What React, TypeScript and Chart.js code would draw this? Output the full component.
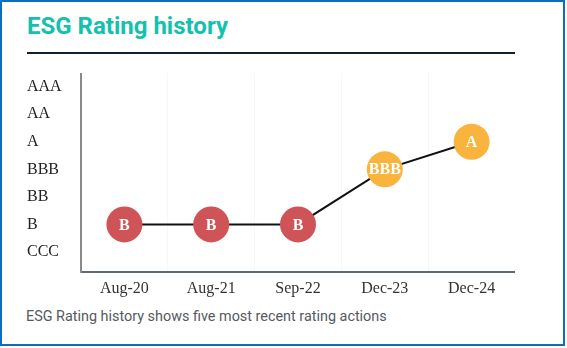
import React, { useEffect, useRef } from "react";
import { Chart, registerables } from "chart.js";

Chart.register(...registerables);

const categories = ["Aug-20", "Aug-21", "Sep-22", "Dec-23", "Dec-24"];
const ratingScale = ["CCC", "B", "BB", "BBB", "A", "AA", "AAA"];
const ratings = ["B", "B", "B", "BBB", "A"];
const ratingValues = [2, 2, 2, 4, 5];
const pointColors = ["#cf5457", "#cf5457", "#cf5457", "#f9b43e", "#f9b43e"];

const labelPlugin = {
  id: "pointLabels",
  afterDatasetsDraw(chart: any) {
    const ctx = chart.ctx;
    const meta = chart.getDatasetMeta(0);
    ctx.save();
    ctx.fillStyle = "#ffffff";
    ctx.font = "bold 16px 'Liberation Serif', serif";
    ctx.textAlign = "center";
    ctx.textBaseline = "middle";
    meta.data.forEach((el: any, i: number) => {
      ctx.fillText(ratings[i], el.x, el.y + 1);
    });
    ctx.restore();
  },
};

function RatingChart() {
  const ref = useRef<HTMLCanvasElement | null>(null);
  useEffect(() => {
    if (!ref.current) return;
    const chart = new Chart(ref.current, {
      type: "line",
      data: {
        labels: categories,
        datasets: [
          {
            data: ratingValues,
            borderColor: "#111111",
            borderWidth: 2,
            pointRadius: 18,
            pointHoverRadius: 18,
            pointBackgroundColor: pointColors,
            pointBorderColor: pointColors,
            pointBorderWidth: 0,
            tension: 0,
            clip: false,
          },
        ],
      },
      options: {
        animation: false,
        responsive: true,
        maintainAspectRatio: false,
        layout: { autoPadding: false, padding: { top: 0, right: 0, bottom: 0, left: 0 } },
        plugins: { legend: { display: false }, tooltip: { enabled: false } },
        scales: {
          x: {
            offset: true,
            grid: { display: true, color: "#f7f7f7", drawTicks: false, offset: true },
            border: { display: true, color: "#5f6b72", width: 2 },
            ticks: {
              color: "#333333",
              padding: 7,
              font: { family: "'Liberation Serif', serif", size: 16 },
            },
            afterFit: (s: any) => {
              s.height = 30;
              s.paddingLeft = 0;
              s.paddingRight = 0;
            },
          },
          y: {
            min: 0.27,
            max: 7.5,
            grid: { display: false, drawTicks: false },
            border: { display: true, color: "#8a8a8a", width: 2 },
            afterBuildTicks: (s: any) => {
              s.ticks = ratingScale.map((_, i) => ({ value: i + 1 }));
            },
            ticks: {
              crossAlign: "far",
              color: "#222222",
              font: { family: "'Liberation Serif', serif", size: 16 },
              callback: (v: any) => ratingScale[Math.round(v) - 1] ?? "",
            },
            afterFit: (s: any) => {
              s.width = 54;
              s.paddingTop = 0;
              s.paddingBottom = 0;
            },
          },
        },
      },
      plugins: [labelPlugin],
    });
    return () => chart.destroy();
  }, []);
  return <canvas ref={ref} />;
}

export default function App() {
  return (
    <div style={{ position: "absolute", left: 0, top: 0, width: 567, height: 348, background: "#fff" }}>
      <div
        style={{
          position: "absolute",
          left: 0,
          top: 0,
          width: 565,
          height: 346,
          boxSizing: "border-box",
          border: "2px solid #0a6fc2",
        }}
      />
      <div
        style={{
          position: "absolute",
          left: 27,
          top: 13.8,
          fontFamily: "Roboto, sans-serif",
          fontWeight: 700,
          fontSize: 24,
          lineHeight: "24px",
          color: "#14c1ae",
          whiteSpace: "nowrap",
        }}
      >
        ESG Rating history
      </div>
      <div style={{ position: "absolute", left: 27, top: 52, width: 488, height: 2, background: "#15222e" }} />
      <div style={{ position: "absolute", left: 27, top: 73, width: 488, height: 229 }}>
        <RatingChart />
      </div>
      <div
        style={{
          position: "absolute",
          left: 26,
          top: 309.5,
          fontFamily: "Roboto, sans-serif",
          fontSize: 14.4,
          lineHeight: "14.4px",
          color: "#555a5e",
          whiteSpace: "nowrap",
        }}
      >
        ESG Rating history shows five most recent rating actions
      </div>
    </div>
  );
}
